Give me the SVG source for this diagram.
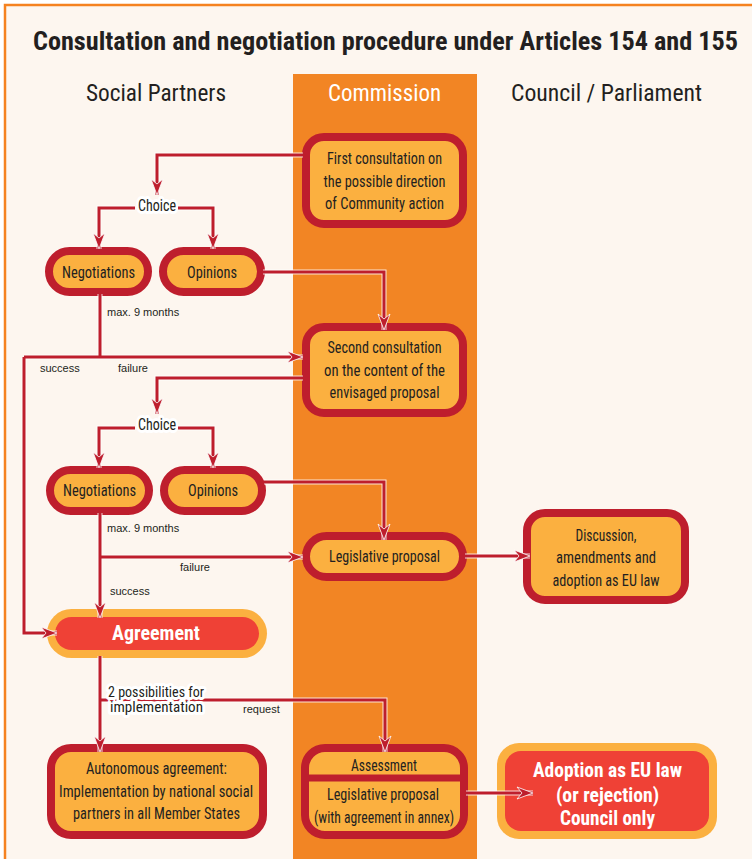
<svg xmlns="http://www.w3.org/2000/svg" width="752" height="859" viewBox="0 0 752 859">
<style>
.t{font-family:"Liberation Sans Narrow","Roboto Condensed","DejaVu Sans Condensed","Liberation Sans",Arial,sans-serif;fill:#231f20;text-anchor:middle}
.n{font-size:17px}
.b{font-weight:bold}
.w{fill:#ffffff}
.s{font-family:"Liberation Sans",Arial,sans-serif;font-size:11px;fill:#231f20}
.box{fill:#fbb040;stroke:#be1e2d;stroke-width:8}
.halo{stroke:#ffffff;stroke-width:6;stroke-linejoin:round;paint-order:stroke}
.cas{fill:none;stroke:#ffffff;stroke-width:5;opacity:0.8}
.c{fill:none;stroke:#be1e2d;stroke-width:3}
</style>
<defs>
<marker id="ah" viewBox="-1 -1 18 14" refX="16" refY="6" markerWidth="18" markerHeight="14" markerUnits="userSpaceOnUse" orient="auto">
<path d="M0,0 L16,6 L0,12 L5,6 Z" fill="#be1e2d" stroke="#ffffff" stroke-width="0.8"/>
</marker>
</defs>
<rect x="0" y="0" width="752" height="859" fill="#ffffff"/>
<rect x="5" y="5" width="760" height="870" fill="#fdf6ef" stroke="#f58220" stroke-width="2.5"/>
<rect x="293" y="74" width="184" height="800" fill="#f28524"/>

<g id="title">
<text class="t b" x="385.5" y="50" font-size="26" textLength="705" lengthAdjust="spacingAndGlyphs">Consultation and negotiation procedure under Articles 154 and 155</text>
</g>
<g id="headers">
<text class="t" x="156" y="101" font-size="24" textLength="140" lengthAdjust="spacingAndGlyphs">Social Partners</text>
<text class="t w" x="384.5" y="101" font-size="24" textLength="113" lengthAdjust="spacingAndGlyphs">Commission</text>
<text class="t" x="606.5" y="101" font-size="24" textLength="191" lengthAdjust="spacingAndGlyphs">Council / Parliament</text>
</g>

<g id="first-consultation">
<rect class="box" x="306" y="137" width="157" height="87" rx="18"/>
<text class="t n" x="384.5" y="164" textLength="115" lengthAdjust="spacingAndGlyphs">First consultation on</text>
<text class="t n" x="384.5" y="187" textLength="122" lengthAdjust="spacingAndGlyphs">the possible direction</text>
<text class="t n" x="384.5" y="209" textLength="119" lengthAdjust="spacingAndGlyphs">of Community action</text>
</g>
<g id="choice-1">
<text class="t n halo" x="157" y="211" textLength="38" lengthAdjust="spacingAndGlyphs">Choice</text>
</g>
<g id="negotiations-1">
<rect class="box" x="49" y="251" width="99" height="41" rx="20.5"/>
<text class="t n" x="98.5" y="278" textLength="73" lengthAdjust="spacingAndGlyphs">Negotiations</text>
</g>
<g id="opinions-1">
<rect class="box" x="163" y="251" width="98" height="41" rx="20.5"/>
<text class="t n" x="212" y="278" textLength="50" lengthAdjust="spacingAndGlyphs">Opinions</text>
</g>
<g id="second-consultation">
<rect class="box" x="306" y="327" width="157" height="86" rx="18"/>
<text class="t n" x="384.5" y="353" textLength="114" lengthAdjust="spacingAndGlyphs">Second consultation</text>
<text class="t n" x="384.5" y="375.5" textLength="121" lengthAdjust="spacingAndGlyphs">on the content of the</text>
<text class="t n" x="384.5" y="398" textLength="110" lengthAdjust="spacingAndGlyphs">envisaged proposal</text>
</g>
<g id="choice-2">
<text class="t n halo" x="157" y="430" textLength="38" lengthAdjust="spacingAndGlyphs">Choice</text>
</g>
<g id="negotiations-2">
<rect class="box" x="50" y="470" width="99" height="41" rx="20.5"/>
<text class="t n" x="99.5" y="496" textLength="73" lengthAdjust="spacingAndGlyphs">Negotiations</text>
</g>
<g id="opinions-2">
<rect class="box" x="164" y="470" width="98" height="41" rx="20.5"/>
<text class="t n" x="213" y="496" textLength="50" lengthAdjust="spacingAndGlyphs">Opinions</text>
</g>
<g id="legislative-proposal">
<rect class="box" x="306" y="536" width="157" height="41" rx="20.5"/>
<text class="t n" x="384.5" y="562" textLength="111" lengthAdjust="spacingAndGlyphs">Legislative proposal</text>
</g>
<g id="discussion">
<rect class="box" x="527" y="513" width="158" height="87" rx="18"/>
<text class="t n" x="606" y="541" textLength="61" lengthAdjust="spacingAndGlyphs">Discussion,</text>
<text class="t n" x="606" y="563" textLength="100" lengthAdjust="spacingAndGlyphs">amendments and</text>
<text class="t n" x="606" y="586" textLength="107" lengthAdjust="spacingAndGlyphs">adoption as EU law</text>
</g>
<g id="agreement">
<rect x="47" y="609" width="220" height="49" rx="24.5" fill="#fbb040"/>
<rect x="55" y="617" width="204" height="33" rx="16.5" fill="#ef4136"/>
<text class="t b w" x="156" y="640" font-size="20" textLength="88" lengthAdjust="spacingAndGlyphs">Agreement</text>
</g>
<g id="autonomous-agreement">
<rect class="box" x="51" y="748" width="212" height="87" rx="20"/>
<text class="t n" x="156.5" y="774" textLength="141" lengthAdjust="spacingAndGlyphs">Autonomous agreement:</text>
<text class="t n" x="156" y="797" textLength="194" lengthAdjust="spacingAndGlyphs">Implementation by national social</text>
<text class="t n" x="156.5" y="819" textLength="167" lengthAdjust="spacingAndGlyphs">partners in all Member States</text>
</g>
<g id="assessment">
<rect class="box" x="305" y="748" width="159" height="87" rx="20"/>
<line x1="305" y1="778" x2="464" y2="778" stroke="#be1e2d" stroke-width="7"/>
<text class="t n" x="384" y="771" textLength="66" lengthAdjust="spacingAndGlyphs">Assessment</text>
<text class="t n" x="383" y="800" textLength="112" lengthAdjust="spacingAndGlyphs">Legislative proposal</text>
<text class="t n" x="384" y="823" textLength="140" lengthAdjust="spacingAndGlyphs">(with agreement in annex)</text>
</g>
<g id="adoption">
<rect x="497" y="743" width="220" height="96" rx="22" fill="#fbb040"/>
<rect x="505" y="751" width="204" height="80" rx="16" fill="#ef4136"/>
<text class="t b w" x="607.5" y="777" font-size="20" textLength="149" lengthAdjust="spacingAndGlyphs">Adoption as EU law</text>
<text class="t b w" x="607.5" y="802" font-size="20" textLength="103" lengthAdjust="spacingAndGlyphs">(or rejection)</text>
<text class="t b w" x="607.5" y="825" font-size="20" textLength="95" lengthAdjust="spacingAndGlyphs">Council only</text>
</g>

<g id="connectors">
<g class="cas">
<path d="M303,155 H157 V195"/>
<path d="M135,208 H99 V249"/>
<path d="M178,208 H213 V249"/>
<path d="M263,272 H384 V330"/>
<path d="M100,294 V357"/>
<path d="M24,357 H303"/>
<path d="M24,357 V633 H57"/>
<path d="M303,378 H157 V414"/>
<path d="M135,428 H99 V468"/>
<path d="M178,428 H213 V468"/>
<path d="M264,482 H384 V540"/>
<path d="M100,513 V618"/>
<path d="M100,557 H303"/>
<path d="M465,556 H530"/>
<path d="M100,656 V752"/>
<path d="M100,700 H385 V752"/>
<path d="M466,793 H533"/>
</g>
<g class="c">
<path d="M303,155 H157 V195" marker-end="url(#ah)"/>
<path d="M135,208 H99 V249" marker-end="url(#ah)"/>
<path d="M178,208 H213 V249" marker-end="url(#ah)"/>
<path d="M263,272 H384 V330" marker-end="url(#ah)"/>
<path d="M100,294 V357"/>
<path d="M24,357 H303" marker-end="url(#ah)"/>
<path d="M24,357 V633 H57" marker-end="url(#ah)"/>
<path d="M303,378 H157 V414" marker-end="url(#ah)"/>
<path d="M135,428 H99 V468" marker-end="url(#ah)"/>
<path d="M178,428 H213 V468" marker-end="url(#ah)"/>
<path d="M264,482 H384 V540" marker-end="url(#ah)"/>
<path d="M100,513 V618" marker-end="url(#ah)"/>
<path d="M100,557 H303" marker-end="url(#ah)"/>
<path d="M465,556 H530" marker-end="url(#ah)"/>
<path d="M100,656 V752" marker-end="url(#ah)"/>
<path d="M100,700 H385 V752" marker-end="url(#ah)"/>
<path d="M466,793 H533" marker-end="url(#ah)"/>
</g>
<text class="s" x="107" y="316">max. 9 months</text>
<text class="s" x="40" y="372">success</text>
<text class="s" x="118" y="372">failure</text>
<text class="s" x="107" y="532">max. 9 months</text>
<text class="s" x="180" y="571">failure</text>
<text class="s" x="110" y="595">success</text>
<text class="t halo" font-size="15"><tspan x="156" y="697" textLength="96" lengthAdjust="spacingAndGlyphs">2 possibilities for</tspan><tspan x="156.5" y="712" textLength="93" lengthAdjust="spacingAndGlyphs">implementation</tspan></text>
<text class="s" x="243" y="713">request</text>
</g>
</svg>
